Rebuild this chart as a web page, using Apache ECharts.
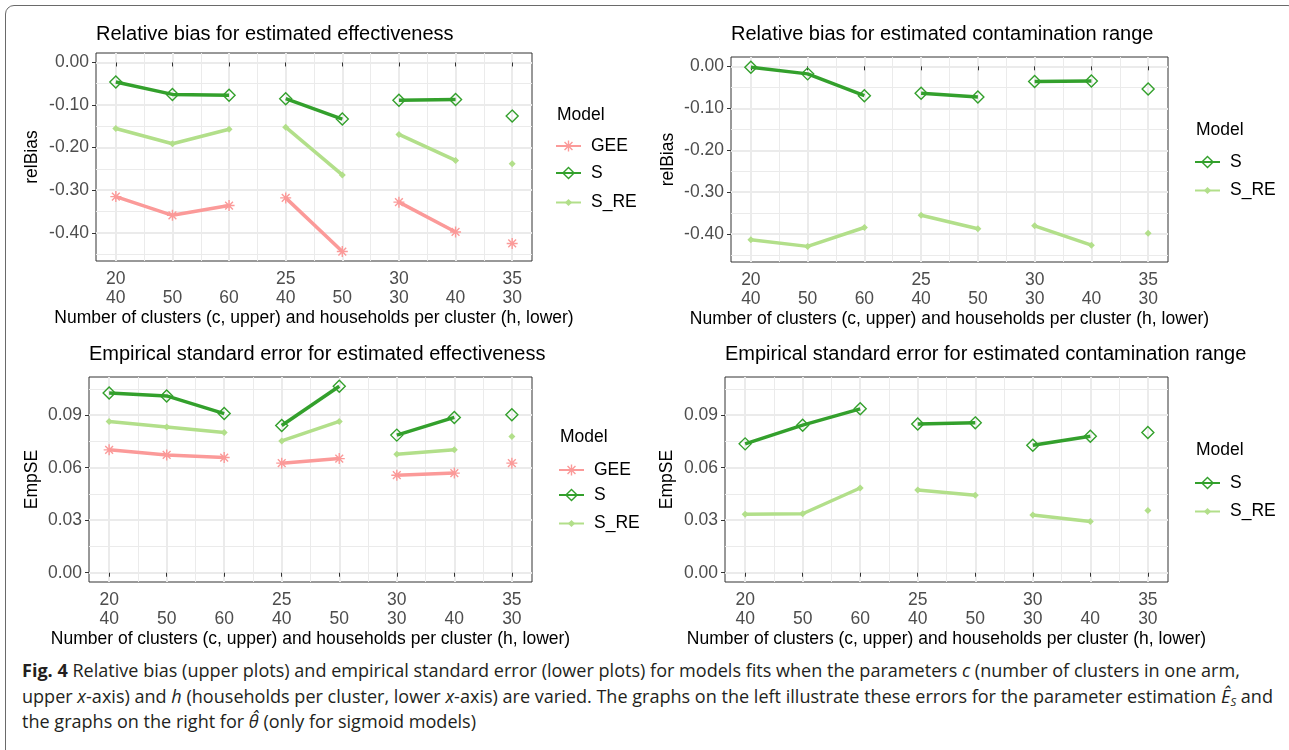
<!DOCTYPE html>
<html>
<head>
<meta charset="utf-8">
<script src="https://cdn.jsdelivr.net/npm/echarts@6/dist/echarts.min.js"></script>
<style>
  html, body { margin: 0; padding: 0; background: #fff; width: 1289px; height: 750px; overflow: hidden; }
  #frame { position: absolute; left: 5px; top: 5px; width: 1292px; height: 820px; border: 1.5px solid #6a6a6a; border-radius: 9px; box-sizing: border-box; }
  #chart { position: absolute; left: 0; top: 0; width: 1289px; height: 650px; }
  #caption { position: absolute; left: 22px; top: 658px; font-family: 'Open Sans', 'Noto Sans', sans-serif; font-size: 17.5px; color: #231f20; line-height: 25.5px; }
  #caption .ln { display: block; white-space: nowrap; width: max-content; transform-origin: 0 50%; }
  #caption sub { font-size: 11px; vertical-align: -3px; line-height: 0; }
</style>
</head>
<body>
<div id="frame"></div>
<div id="chart"></div>
<div id="caption">
  <span class="ln"><b>Fig. 4</b> Relative bias (upper plots) and empirical standard error (lower plots) for models fits when the parameters <i>c</i> (number of clusters in one arm,</span>
  <span class="ln" data-w="1251">upper <i>x</i>-axis) and <i>h</i> (households per cluster, lower <i>x</i>-axis) are varied. The graphs on the left illustrate these errors for the parameter estimation <i>Ê<sub>S</sub></i> and</span>
  <span class="ln">the graphs on the right for <i>θ̂</i> (only for sigmoid models)</span>
</div>
<script>
// Design settings: number of clusters (c) and households per cluster (h)
const cLabels = [20, 20, 20, 25, 25, 30, 30, 35];
const hLabels = [40, 50, 60, 40, 50, 30, 40, 30];
const models = ['GEE', 'S', 'S_RE'];

// Relative bias of the effectiveness estimate
const biasEffGEE = [-0.315, -0.359, -0.336, -0.318, -0.444, -0.328, -0.398, -0.425];
const biasEffS   = [-0.046, -0.075, -0.077, -0.085, -0.133, -0.089, -0.087, -0.126];
const biasEffSRE = [-0.155, -0.191, -0.157, -0.152, -0.264, -0.169, -0.230, -0.238];

// Relative bias of the contamination range estimate
const biasRangeS   = [-0.002, -0.018, -0.070, -0.064, -0.073, -0.036, -0.035, -0.054];
const biasRangeSRE = [-0.413, -0.429, -0.384, -0.355, -0.387, -0.380, -0.426, -0.398];

// Empirical standard error of the effectiveness estimate
const seEffGEE = [0.0702, 0.0673, 0.0658, 0.0626, 0.0652, 0.0557, 0.0569, 0.0626];
const seEffS   = [0.1027, 0.1010, 0.0909, 0.0841, 0.1065, 0.0786, 0.0887, 0.0902];
const seEffSRE = [0.0864, 0.0833, 0.0801, 0.0753, 0.0864, 0.0677, 0.0702, 0.0778];

// Empirical standard error of the contamination range estimate
const seRangeS   = [0.0736, 0.0843, 0.0936, 0.0850, 0.0856, 0.0728, 0.0780, 0.0801];
const seRangeSRE = [0.0334, 0.0337, 0.0484, 0.0473, 0.0442, 0.0330, 0.0292, 0.0355];

// Axis breaks
const biasTicks = [0, -0.1, -0.2, -0.3, -0.4];
const biasMinor = [-0.05, -0.15, -0.25, -0.35, -0.45];
const seTicks = [0, 0.03, 0.06, 0.09];
const seMinor = [0.015, 0.045, 0.075, 0.105];

const FONT = "'Liberation Sans', Arial, sans-serif";
const xPos = cLabels.map((_, i) => i + 1);
const xMinor = xPos.slice(0, -1).map(v => v + 0.5);

const asterisk = 'path://M5,0L5,10M0,5L10,5M1.46,1.46L8.54,8.54M1.46,8.54L8.54,1.46';
const styles = {
  GEE:  { color: '#FB9A99', symbol: asterisk, size: 11, itemStyle: { color: 'rgba(0,0,0,0)', borderColor: '#FB9A99', borderWidth: 1.4 }, legendH: 14 },
  S:    { color: '#33A02C', symbol: 'diamond', size: 12, itemStyle: { color: 'rgba(0,0,0,0)', borderColor: '#33A02C', borderWidth: 1.4 }, legendH: 14 },
  S_RE: { color: '#B2DF8A', symbol: 'diamond', size: 7, itemStyle: { color: '#B2DF8A', borderWidth: 0 }, legendH: 9 }
};

const panels = [
  { grid: { left: 96, top: 53, width: 436, height: 208 }, title: 'Relative bias for estimated effectiveness', titleTop: 23,
    yName: 'relBias', yGap: 55, yMin: -0.4662, yMax: 0.0222, yTicks: biasTicks, yMinor: biasMinor,
    values: { GEE: biasEffGEE, S: biasEffS, S_RE: biasEffSRE },
    legendLeft: 555, legendTitleTop: 105, legendRows: [143, 170, 197] },
  { grid: { left: 731, top: 57, width: 437, height: 205 }, title: 'Relative bias for estimated contamination range', titleTop: 23,
    yName: 'relBias', yGap: 54, yMin: -0.4662, yMax: 0.0222, yTicks: biasTicks, yMinor: biasMinor,
    values: { S: biasRangeS, S_RE: biasRangeSRE },
    legendLeft: 1194, legendTitleTop: 120, legendRows: [159, 185] },
  { grid: { left: 89, top: 377, width: 443, height: 205 }, title: 'Empirical standard error for estimated effectiveness', titleTop: 343,
    yName: 'EmpSE', yGap: 48, yMin: -0.0053, yMax: 0.1118, yTicks: seTicks, yMinor: seMinor,
    values: { GEE: seEffGEE, S: seEffS, S_RE: seEffSRE },
    legendLeft: 558, legendTitleTop: 427, legendRows: [467, 492, 518] },
  { grid: { left: 725, top: 377, width: 443, height: 205 }, title: 'Empirical standard error for estimated contamination range', titleTop: 343,
    yName: 'EmpSE', yGap: 49, yMin: -0.0053, yMax: 0.1118, yTicks: seTicks, yMinor: seMinor,
    values: { S: seRangeS, S_RE: seRangeSRE },
    legendLeft: 1194, legendTitleTop: 440, legendRows: [480, 506] }
];

const xLabel = v => {
  const i = Math.round(v) - 1;
  const top = (i === 0 || cLabels[i] !== cLabels[i - 1]) ? String(cLabels[i]) : ' ';
  return top + '\n' + hLabels[i];
};

const grids = [], xAxes = [], yAxes = [], series = [], titles = [], legends = [];

panels.forEach((p, k) => {
  grids.push(Object.assign({ show: true, borderColor: '#333333', borderWidth: 1, backgroundColor: 'transparent' }, p.grid));

  titles.push({ text: p.title, left: p.grid.left, top: p.titleTop, padding: 0,
    textStyle: { fontFamily: FONT, fontSize: 20, fontWeight: 'normal', color: '#000', lineHeight: 22 } });
  titles.push({ text: 'Model', left: p.legendLeft + 2, top: p.legendTitleTop, padding: 0,
    textStyle: { fontFamily: FONT, fontSize: 17.5, fontWeight: 'normal', color: '#000', lineHeight: 20 } });

  // major x breaks with labels
  xAxes.push({
    gridIndex: k, type: 'value', min: 0.65, max: 8.35,
    axisLine: { show: false },
    axisTick: { show: true, customValues: xPos, length: 4, lineStyle: { color: '#333333', width: 1 } },
    axisLabel: { customValues: xPos, formatter: xLabel, fontFamily: FONT, fontSize: 17.5, color: '#4D4D4D', lineHeight: 19, margin: 9 },
    splitLine: { show: true, lineStyle: { color: '#EBEBEB', width: 2 } },
    name: 'Number of clusters (c, upper) and households per cluster (h, lower)',
    nameLocation: 'middle', nameGap: 47,
    nameTextStyle: { fontFamily: FONT, fontSize: 17.5, color: '#000' }
  });
  // minor x grid
  xAxes.push({
    gridIndex: k, type: 'value', min: 0.65, max: 8.35, position: 'top',
    axisLine: { show: false }, axisTick: { show: false, customValues: xMinor }, axisLabel: { show: false, customValues: xMinor },
    splitLine: { show: true, lineStyle: { color: '#EBEBEB', width: 1 } }
  });
  yAxes.push({
    gridIndex: k, type: 'value', min: p.yMin, max: p.yMax,
    axisLine: { show: false },
    axisTick: { show: true, customValues: p.yTicks, length: 4, lineStyle: { color: '#333333', width: 1 } },
    axisLabel: { customValues: p.yTicks, formatter: v => v.toFixed(2), fontFamily: FONT, fontSize: 17.5, color: '#4D4D4D', margin: 7 },
    splitLine: { show: true, lineStyle: { color: '#EBEBEB', width: 2 } },
    name: p.yName, nameLocation: 'middle', nameGap: p.yGap,
    nameTextStyle: { fontFamily: FONT, fontSize: 17.5, color: '#000' }
  });
  // minor y grid
  yAxes.push({
    gridIndex: k, type: 'value', min: p.yMin, max: p.yMax, position: 'right',
    axisLine: { show: false }, axisTick: { show: false, customValues: p.yMinor }, axisLabel: { show: false, customValues: p.yMinor },
    splitLine: { show: true, lineStyle: { color: '#EBEBEB', width: 1 } }
  });

  const present = models.filter(m => p.values[m]);
  present.forEach((m, r) => {
    const st = styles[m];
    const vals = p.values[m];
    // one line piece per number of clusters
    const groups = [...new Set(cLabels)];
    groups.forEach(c => {
      const idx = cLabels.map((cv, i) => cv === c ? i : -1).filter(i => i >= 0);
      series.push({
        type: 'line', name: m, xAxisIndex: 2 * k, yAxisIndex: 2 * k,
        data: idx.map(i => [i + 1, vals[i]]),
        symbol: st.symbol, symbolSize: st.size, showSymbol: true,
        color: st.color,
        lineStyle: { color: st.color, width: 3.5 },
        itemStyle: st.itemStyle,
        z: 2 + r, silent: true, animation: false,
        emphasis: { disabled: true }
      });
    });
    legends.push({
      left: p.legendLeft, top: p.legendRows[r] - st.legendH / 2, padding: 0,
      orient: 'vertical', selectedMode: false,
      itemWidth: 25, itemHeight: st.legendH,
      data: [{ name: m, itemStyle: st.itemStyle }],
      textStyle: { fontFamily: FONT, fontSize: 17.5, color: '#000', lineHeight: 20, padding: [0, 0, 0, 5] }
    });
  });
});

const chart = echarts.init(document.getElementById('chart'));
chart.setOption({
  animation: false,
  title: titles,
  grid: grids,
  xAxis: xAxes,
  yAxis: yAxes,
  legend: legends,
  series: series
});

// condense the caption uniformly so the widest line fills the column
const lines = document.querySelectorAll('#caption .ln');
const ref = lines[1];
const k = parseFloat(ref.dataset.w) / ref.getBoundingClientRect().width;
lines.forEach(el => { el.style.transform = 'scaleX(' + k + ')'; });
</script>
</body>
</html>
